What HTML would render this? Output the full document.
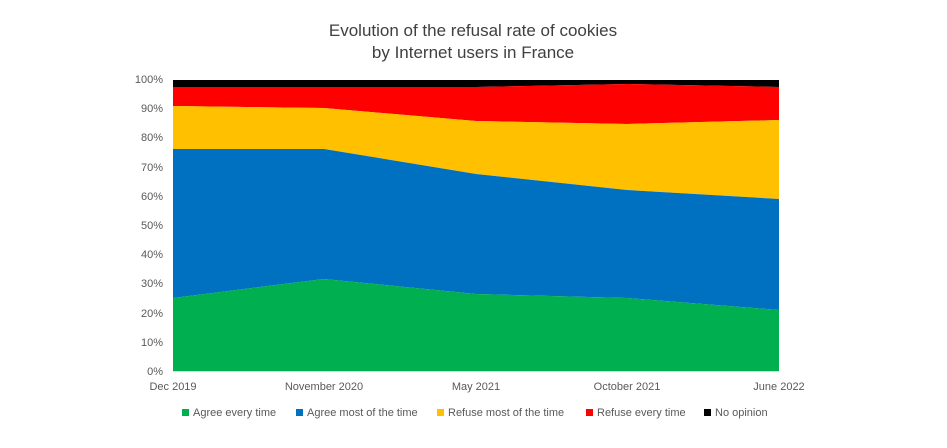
<!DOCTYPE html>
<html><head><style>
body{margin:0;background:#fff;width:947px;height:443px;overflow:hidden;font-family:"Liberation Sans",sans-serif}
</style></head><body>
<svg width="947" height="443" xmlns="http://www.w3.org/2000/svg" font-family="Liberation Sans, sans-serif">
<text x="473" y="36" font-size="17" fill="#404040" text-anchor="middle">Evolution of the refusal rate of cookies</text>
<text x="473" y="58" font-size="17" fill="#404040" text-anchor="middle">by Internet users in France</text>
<g font-size="11" fill="#595959" text-anchor="end">
<text x="163" y="83">100%</text><text x="163" y="112">90%</text><text x="163" y="141">80%</text><text x="163" y="171">70%</text><text x="163" y="200">60%</text><text x="163" y="229">50%</text><text x="163" y="258">40%</text><text x="163" y="287">30%</text><text x="163" y="317">20%</text><text x="163" y="346">10%</text><text x="163" y="375">0%</text>
</g>
<polygon fill="#000" points="173,80 779,80 779,87 627,84 476,87 324,87 173,87"/>
<polygon fill="#ff0000" points="173,87 324,87 476,87 627,84 779,87 779,120 627,124 476,121 324,108 173,106"/>
<polygon fill="#ffc000" points="173,106 324,108 476,121 627,124 779,120 779,199 627,190 476,174 324,149 173,149"/>
<polygon fill="#0070c0" points="173,149 324,149 476,174 627,190 779,199 779,310 627,298 476,294 324,279 173,298"/>
<polygon fill="#00b050" points="173,298 324,279 476,294 627,298 779,310 779,371 173,371"/>
<line x1="173" y1="371.5" x2="779" y2="371.5" stroke="#d9d9d9"/>
<g font-size="11" fill="#595959" text-anchor="middle">
<text x="173" y="390">Dec 2019</text><text x="324" y="390">November 2020</text><text x="476" y="390">May 2021</text><text x="627" y="390">October 2021</text><text x="779" y="390">June 2022</text>
</g>
<g font-size="11" fill="#595959">
<rect x="182" y="409" width="7" height="7" fill="#00b050"/><text x="193" y="416">Agree every time</text>
<rect x="296" y="409" width="7" height="7" fill="#0070c0"/><text x="307" y="416">Agree most of the time</text>
<rect x="437" y="409" width="7" height="7" fill="#ffc000"/><text x="448" y="416">Refuse most of the time</text>
<rect x="586" y="409" width="7" height="7" fill="#ff0000"/><text x="597" y="416">Refuse every time</text>
<rect x="704" y="409" width="7" height="7" fill="#000"/><text x="715" y="416">No opinion</text>
</g>
</svg>
</body></html>
